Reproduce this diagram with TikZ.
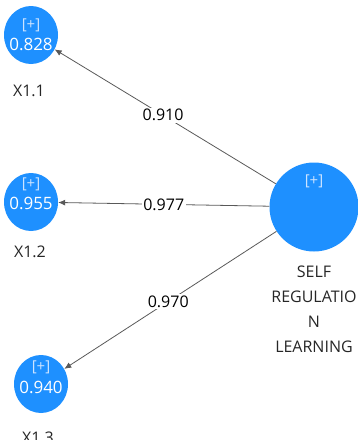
\documentclass[tikz,border=0pt]{standalone}
\usepackage{fontspec}
\setmainfont{Open Sans}
\usetikzlibrary{arrows.meta,shapes.geometric}
\definecolor{latentblue}{RGB}{30,144,255}
\definecolor{plustext}{RGB}{205,228,255}

\begin{document}
\begin{tikzpicture}[x=1pt,y=-1pt,
  indicator/.style={ellipse,fill=latentblue,minimum width=54pt,minimum height=58pt,inner sep=0pt},
  construct/.style={circle,fill=latentblue,minimum size=89pt,inner sep=0pt},
  plus/.style={text=plustext,font=\fontsize{15}{15}\selectfont},
  inval/.style={text=white,font=\fontsize{17}{17}\selectfont},
  caption/.style={font=\fontsize{16}{25}\selectfont,align=center,text=black!85},
  loading/.style={draw=black!65,line width=0.8pt,-{Latex[length=7pt,width=6pt]}},
  weight/.style={fill=white,inner sep=1.5pt,font=\fontsize{16}{16}\selectfont}]

\useasboundingbox (0,0) rectangle (358,440);

% latent variable
\node[construct] (slr) at (314,207) {};
\node[plus] (slr-plus) at (314,181) {[+]};
\node[caption,anchor=north] (slr-name) at (314,262) {SELF\\REGULATIO\\N\\LEARNING};

% indicators
\node[indicator] (x11) at (31,35) {};
\node[plus] (x11-plus) at (31,25) {[+]};
\node[inval] (x11-val) at (31,44) {0.828};
\node[caption] (x11-name) at (29,91) {X1.1};

\node[indicator] (x12) at (31,202) {};
\node[plus] (x12-plus) at (31,184) {[+]};
\node[inval] (x12-val) at (31,203) {0.955};
\node[caption] (x12-name) at (30,252) {X1.2};

\node[indicator] (x13) at (41,384) {};
\node[plus] (x13-plus) at (41,367) {[+]};
\node[inval] (x13-val) at (41,387) {0.940};
\node[caption] (x13-name) at (38,438) {X1.3};

% outer loadings
\draw[loading] (slr) -- node[weight,pos=0.51] (w11) {0.910} (x11);
\draw[loading] (slr) -- node[weight,pos=0.5] (w12) {0.977} (x12);
\draw[loading] (slr) -- node[weight,pos=0.51] (w13) {0.970} (x13);
\end{tikzpicture}
\end{document}
